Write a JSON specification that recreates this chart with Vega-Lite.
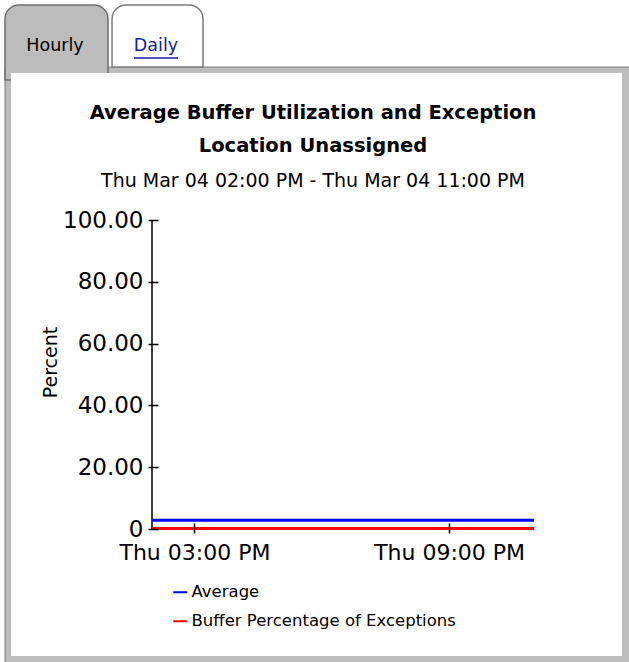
{
  "$schema": "https://vega.github.io/schema/vega-lite/v6.json",
  "width": 382,
  "height": 309,
  "autosize": {"type": "none"},
  "padding": {"left": 152, "top": 220, "right": 95, "bottom": 133},
  "background": "white",
  "config": {"view": {"stroke": null}, "font": "DejaVu Sans"},
  "title": {
    "text": ["Average Buffer Utilization and Exception", "Location Unassigned"],
    "subtitle": "Thu Mar 04 02:00 PM - Thu Mar 04 11:00 PM",
    "anchor": "middle",
    "frame": "group",
    "dx": -30,
    "font": "DejaVu Sans",
    "fontSize": 19.5,
    "fontWeight": "bold",
    "lineHeight": 33,
    "color": "#000000",
    "subtitleFont": "DejaVu Sans",
    "subtitleFontSize": 19,
    "subtitleColor": "#000000",
    "subtitlePadding": 16,
    "offset": -188,
    "zindex": 1
  },
  "layer": [
    {
      "data": {"values": [{}]},
      "mark": {"type": "rect", "fill": "#bcbcbc", "stroke": "#7c7c7c", "strokeWidth": 1},
      "encoding": {
        "x": {"datum": {"year": 2004, "month": 3, "date": 4, "hours": 10, "minutes": 32, "seconds": 12}, "type": "temporal"},
        "x2": {"datum": {"year": 2004, "month": 3, "date": 5, "hours": 1, "minutes": 16, "seconds": 0}},
        "y": {"datum": 149.5, "type": "quantitative"},
        "y2": {"datum": -45}
      }
    },
    {
      "data": {"values": [{}]},
      "mark": {"type": "rect", "fill": "#ffffff", "stroke": "#7c7c7c", "strokeWidth": 1.5, "cornerRadiusTopLeft": 14, "cornerRadiusTopRight": 14},
      "encoding": {
        "x": {"datum": {"year": 2004, "month": 3, "date": 4, "hours": 13, "minutes": 3, "seconds": 30}, "type": "temporal"},
        "x2": {"datum": {"year": 2004, "month": 3, "date": 4, "hours": 15, "minutes": 12, "seconds": 6}},
        "y": {"datum": 169.6, "type": "quantitative"},
        "y2": {"datum": 149.5}
      }
    },
    {
      "data": {"values": [{}]},
      "mark": {"type": "rect", "fill": "#bcbcbc", "stroke": "#6e6e6e", "strokeWidth": 1.5, "cornerRadiusTopLeft": 14, "cornerRadiusTopRight": 14},
      "encoding": {
        "x": {"datum": {"year": 2004, "month": 3, "date": 4, "hours": 10, "minutes": 32, "seconds": 12}, "type": "temporal"},
        "x2": {"datum": {"year": 2004, "month": 3, "date": 4, "hours": 12, "minutes": 57, "seconds": 48}},
        "y": {"datum": 169.6, "type": "quantitative"},
        "y2": {"datum": 145.3}
      }
    },
    {
      "data": {"values": [{}]},
      "mark": {"type": "rect", "fill": "#ffffff"},
      "encoding": {
        "x": {"datum": {"year": 2004, "month": 3, "date": 4, "hours": 10, "minutes": 40, "seconds": 40}, "type": "temporal"},
        "x2": {"datum": {"year": 2004, "month": 3, "date": 5, "hours": 1, "minutes": 4, "seconds": 24}},
        "y": {"datum": 147.57, "type": "quantitative"},
        "y2": {"datum": -41.1}
      }
    },
    {
      "data": {"values": [{}]},
      "mark": {"type": "text", "text": "Hourly", "fontSize": 17.5, "color": "#000000", "align": "center", "baseline": "middle", "font": "DejaVu Sans"},
      "encoding": {
        "x": {"datum": {"year": 2004, "month": 3, "date": 4, "hours": 11, "minutes": 42, "seconds": 54}, "type": "temporal"},
        "y": {"datum": 156.3, "type": "quantitative"}
      }
    },
    {
      "data": {"values": [{}]},
      "mark": {"type": "text", "text": "Daily", "fontSize": 17.5, "color": "#1a1aa6", "align": "center", "baseline": "middle", "font": "DejaVu Sans"},
      "encoding": {
        "x": {"datum": {"year": 2004, "month": 3, "date": 4, "hours": 14, "minutes": 5, "seconds": 39}, "type": "temporal"},
        "y": {"datum": 156.3, "type": "quantitative"}
      }
    },
    {
      "data": {"values": [{}]},
      "mark": {"type": "rule", "color": "#1a1aa6", "strokeWidth": 1.5},
      "encoding": {
        "x": {"datum": {"year": 2004, "month": 3, "date": 4, "hours": 13, "minutes": 34, "seconds": 36}, "type": "temporal"},
        "x2": {"datum": {"year": 2004, "month": 3, "date": 4, "hours": 14, "minutes": 36, "seconds": 45}},
        "y": {"datum": 152.4, "type": "quantitative"}
      }
    },
    {
      "data": {"values": [{}]},
      "mark": {"type": "rule", "color": "#000000", "strokeWidth": 1.5},
      "encoding": {
        "x": {"datum": {"year": 2004, "month": 3, "date": 4, "hours": 14, "minutes": 0}, "type": "temporal"},
        "y": {"datum": 0, "type": "quantitative"},
        "y2": {"datum": 100}
      }
    },
    {
      "data": {"values": [{}]},
      "mark": {"type": "rule", "color": "#000000", "strokeWidth": 1.5},
      "encoding": {
        "x": {"datum": {"year": 2004, "month": 3, "date": 4, "hours": 14, "minutes": 0}, "type": "temporal"},
        "x2": {"datum": {"year": 2004, "month": 3, "date": 4, "hours": 23, "minutes": 0}},
        "y": {"datum": 0, "type": "quantitative"}
      }
    },
    {
      "data": {
        "values": [
          {"time": "2004-03-04T14:00:00", "series": "Average", "percent": 2.8},
          {"time": "2004-03-04T15:00:00", "series": "Average", "percent": 2.8},
          {"time": "2004-03-04T16:00:00", "series": "Average", "percent": 2.8},
          {"time": "2004-03-04T17:00:00", "series": "Average", "percent": 2.8},
          {"time": "2004-03-04T18:00:00", "series": "Average", "percent": 2.8},
          {"time": "2004-03-04T19:00:00", "series": "Average", "percent": 2.8},
          {"time": "2004-03-04T20:00:00", "series": "Average", "percent": 2.8},
          {"time": "2004-03-04T21:00:00", "series": "Average", "percent": 2.8},
          {"time": "2004-03-04T22:00:00", "series": "Average", "percent": 2.8},
          {"time": "2004-03-04T23:00:00", "series": "Average", "percent": 2.8},
          {"time": "2004-03-04T14:00:00", "series": "Buffer Percentage of Exceptions", "percent": 0.2},
          {"time": "2004-03-04T15:00:00", "series": "Buffer Percentage of Exceptions", "percent": 0.2},
          {"time": "2004-03-04T16:00:00", "series": "Buffer Percentage of Exceptions", "percent": 0.2},
          {"time": "2004-03-04T17:00:00", "series": "Buffer Percentage of Exceptions", "percent": 0.2},
          {"time": "2004-03-04T18:00:00", "series": "Buffer Percentage of Exceptions", "percent": 0.2},
          {"time": "2004-03-04T19:00:00", "series": "Buffer Percentage of Exceptions", "percent": 0.2},
          {"time": "2004-03-04T20:00:00", "series": "Buffer Percentage of Exceptions", "percent": 0.2},
          {"time": "2004-03-04T21:00:00", "series": "Buffer Percentage of Exceptions", "percent": 0.2},
          {"time": "2004-03-04T22:00:00", "series": "Buffer Percentage of Exceptions", "percent": 0.2},
          {"time": "2004-03-04T23:00:00", "series": "Buffer Percentage of Exceptions", "percent": 0.2}
        ]
      },
      "mark": {"type": "line", "strokeWidth": 3},
      "encoding": {
        "x": {
          "field": "time",
          "type": "temporal",
          "scale": {
            "domain": [
              {"year": 2004, "month": 3, "date": 4, "hours": 14, "minutes": 0},
              {"year": 2004, "month": 3, "date": 4, "hours": 23, "minutes": 0}
            ],
            "nice": false
          },
          "axis": {
            "values": [
              {"year": 2004, "month": 3, "date": 4, "hours": 15, "minutes": 0},
              {"year": 2004, "month": 3, "date": 4, "hours": 21, "minutes": 0}
            ],
            "format": "%a %I:%M %p",
            "title": null,
            "domain": false,
            "grid": false,
            "offset": -6,
            "tickSize": 10,
            "tickColor": "#000000",
            "tickWidth": 1.5,
            "labelFont": "DejaVu Sans",
            "labelFontSize": 22,
            "labelColor": "#000000",
            "labelPadding": 9,
            "labelFlush": false,
            "labelOverlap": false,
            "zindex": 1
          }
        },
        "y": {
          "field": "percent",
          "type": "quantitative",
          "scale": {"domain": [0, 100], "nice": false, "zero": false},
          "axis": {
            "values": [0, 10, 20, 30, 40, 50, 60, 70, 80, 90, 100],
            "labelExpr": "datum.value % 20 === 0 ? (datum.value === 0 ? '0' : format(datum.value, '.2f')) : ''",
            "title": "Percent",
            "titleFont": "DejaVu Sans",
            "titleFontSize": 19,
            "titleFontWeight": "normal",
            "titleColor": "#000000",
            "titlePadding": 2,
            "titleY": 142,
            "domain": false,
            "grid": false,
            "offset": -6,
            "tickSize": 10,
            "tickColor": "#000000",
            "tickWidth": 1.5,
            "labelFont": "DejaVu Sans",
            "labelFontSize": 23,
            "labelColor": "#000000",
            "labelPadding": 5,
            "labelOverlap": false,
            "labelFlush": false,
            "zindex": 1
          }
        },
        "color": {
          "field": "series",
          "type": "nominal",
          "scale": {"domain": ["Average", "Buffer Percentage of Exceptions"], "range": ["#0000ff", "#ff0000"]},
          "legend": {
            "title": null,
            "orient": "none",
            "legendX": 20,
            "legendY": 364,
            "padding": 0,
            "symbolType": "stroke",
            "symbolSize": 196,
            "symbolStrokeWidth": 2,
            "labelFont": "DejaVu Sans",
            "labelFontSize": 16.5,
            "labelColor": "#000000",
            "labelOffset": 3,
            "labelLimit": 0,
            "rowPadding": 12,
            "zindex": 1
          }
        }
      }
    }
  ]
}
